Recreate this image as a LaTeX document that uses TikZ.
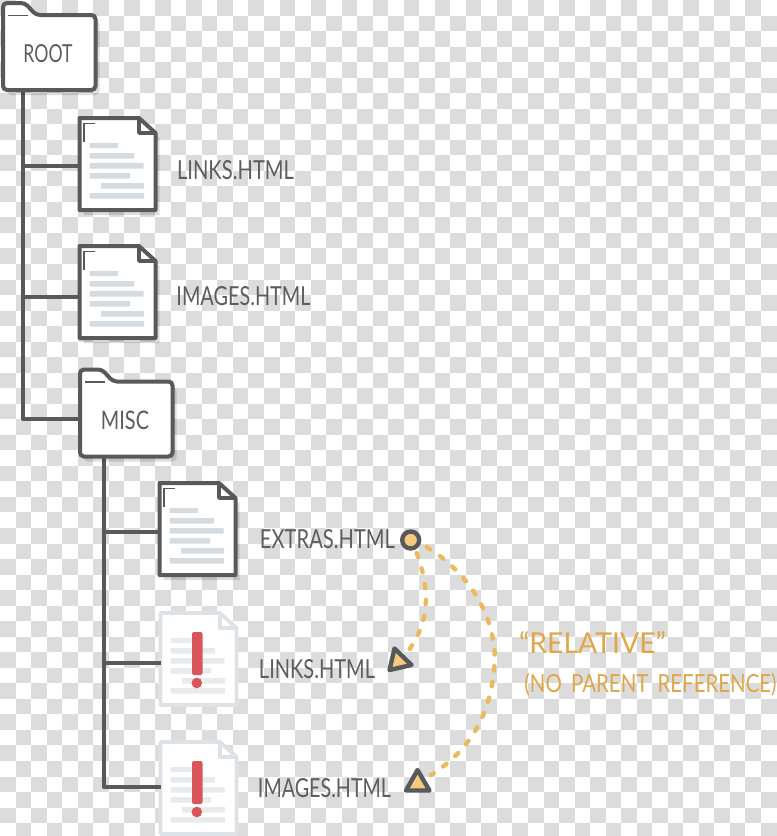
\documentclass[tikz,border=0pt]{standalone}
\usepackage{fontspec}
\usepackage{graphicx}
\setmainfont{Lato}
\definecolor{ink}{HTML}{58595B}
\definecolor{labelink}{HTML}{5C5D61}
\definecolor{checker}{HTML}{DCDCDC}
\definecolor{amber}{HTML}{EDB95E}
\definecolor{ambertext}{HTML}{DFA64A}
\definecolor{amberfill}{HTML}{F6C97F}
\definecolor{docline}{HTML}{D6DBE0}
\definecolor{faint}{HTML}{DDE2E7}
\definecolor{faintline}{HTML}{E8EBEE}
\definecolor{alert}{HTML}{D9555A}
\tikzset{
  x=1pt,y=-1pt,
  wire/.style={draw=ink,line width=4pt,line join=round},
  relpath/.style={draw=amber,line width=4.4pt,line cap=round,dash pattern=on 4.4pt off 11.6pt},
  marker/.style={draw=ink,fill=amberfill,line width=4.4pt,line join=round},
  anchorbox/.style={inner sep=0pt,outer sep=0pt,anchor=north west},
  lab/.style={inner sep=0pt,outer sep=0pt,text=labelink},
  rellab/.style={inner sep=0pt,outer sep=0pt,text=ambertext},
  shadowfill/.style={fill=black,fill opacity=0.13},
}
\newcommand{\folderpath}{(0,87) -- (0,0) -- (22,0) -- (33,12) -- (92.5,12) -- (92.5,87) -- cycle}
\newcommand{\myfolder}[3]{%
  \begin{scope}[shift={(#2,#3)}]
    \fill[shadowfill,rounded corners=4pt,shift={(4,5)}] \folderpath;
    \filldraw[fill=white,draw=ink,line width=4pt,rounded corners=4pt] \folderpath;
    \draw[ink,line width=1.3pt] (5,12.5) -- (25,12.5);
    \node[anchorbox,minimum width=92.5pt,minimum height=87pt] (#1) at (0,0) {};
  \end{scope}}
\newcommand{\doclines}[1]{%
  \fill[#1] (10,25) rectangle (38.5,30) (10,35) rectangle (54.5,40.5)
    (10,45) rectangle (64,50.5) (10,55) rectangle (50.5,60.5)
    (21.5,65) rectangle (64.5,70.5) (10,75) rectangle (64.5,80.5);}
\newcommand{\docpath}{(0,0) -- (59.5,0) -- (76,15) -- (76,92) -- (0,92) -- cycle}
\newcommand{\myfile}[3]{%
  \begin{scope}[shift={(#2,#3)}]
    \fill[shadowfill,shift={(4,5)}] \docpath;
    \filldraw[fill=white,draw=ink,line width=4pt,line join=round] \docpath;
    \draw[ink,line width=3.6pt,line join=round] (59.5,0) -- (59.5,15) -- (76,15);
    \draw[ink,line width=1.5pt] (4.5,24) -- (4.5,5.5) -- (15.5,5.5);
    \doclines{docline}
    \node[anchorbox,minimum width=76pt,minimum height=92pt] (#1) at (0,0) {};
  \end{scope}}
\newcommand{\myalert}[3]{%
  \begin{scope}[shift={(#2,#3)}]
    \filldraw[fill=white,draw=faint,line width=3.8pt,line join=round] \docpath;
    \draw[faint,line width=3.2pt,line join=round] (59.5,0) -- (59.5,15) -- (76,15);
    \doclines{faintline}
    \fill[alert,rounded corners=2pt] (31.5,19) rectangle (42,62);
    \fill[alert] (36.3,70) circle (5.3);
    \node[anchorbox,minimum width=76pt,minimum height=92pt] (#1) at (0,0) {};
  \end{scope}}
\newcommand{\fit}[3]{\resizebox{#1pt}{#2pt}{#3}}
\begin{document}
\begin{tikzpicture}
\useasboundingbox (0,0) rectangle (777,836);
\fill[white] (0,0) rectangle (777,836);
% checkerboard
\begin{scope}
\clip (0,0) rectangle (777,836);
\foreach \r in {0,...,53}{
  \foreach \c in {0,...,50}{
    \pgfmathtruncatemacro{\cellodd}{mod(\r+\c,2)}
    \ifnum\cellodd=0
      \fill[checker] ({\c*15.53},{\r*15.53}) rectangle ({(\c+1)*15.53},{(\r+1)*15.53});
    \fi
  }
}
\end{scope}
% anchor points of the tree
\coordinate (rootout) at (23,90);
\coordinate (bl) at (23,166);
\coordinate (bi) at (23,297);
\coordinate (bm) at (23,419);
\coordinate (bmend) at (81,419);
\coordinate (miscout) at (104,457);
\coordinate (be) at (104,532);
\coordinate (bl2) at (104,662.5);
\coordinate (bi2) at (104,787);
% nodes
\myfile{linksdoc}{79.5}{118}
\myfile{imagesdoc}{79.5}{246}
\myfile{extrasdoc}{159.5}{483}
\myalert{linksalert}{160.5}{613}
\myalert{imagesalert}{160.5}{742}
% connectors under the folders
\draw[wire] (rootout) -- (bm) -- (bmend);
\draw[wire] (bl) -- (bl -| linksdoc.west);
\draw[wire] (bi) -- (bi -| imagesdoc.west);
\draw[wire] (miscout) -- (bi2) -- (bi2 -| imagesalert.west);
\draw[wire] (be) -- (be -| extrasdoc.west);
\draw[wire] (bl2) -- (bl2 -| linksalert.west);
\myfolder{root}{3}{3}
\myfolder{misc}{80}{369.5}
% labels
\node[lab] (rootlab) at (48,54) {\fit{49}{18}{ROOT}};
\node[lab] (misclab) at (125,420) {\fit{48}{18.5}{MISC}};
\node[lab] (l1) at (235.5,170.5) {\fit{117}{19}{LINKS.HTML}};
\node[lab] (i1) at (243.5,296.5) {\fit{134}{19}{IMAGES.HTML}};
\node[lab] (e1) at (327.5,539) {\fit{135}{19}{EXTRAS.HTML}};
\node[lab] (l2) at (317,669.5) {\fit{116}{19}{LINKS.HTML}};
\node[lab] (i2) at (324.5,788.5) {\fit{133}{19}{IMAGES.HTML}};
\node[rellab] (rel) at (592.5,642.5) {\fit{147}{22}{“RELATIVE”}};
\node[rellab] (nop) at (650.5,684.5) {\resizebox*{252pt}{23pt}{(NO\hspace{0.45em}PARENT\hspace{0.45em}REFERENCE)}};
% relative links
\coordinate (src) at (410.7,540);
\coordinate (end1) at (409,650);
\coordinate (end2) at (431,775);
\draw[relpath] (src) ++(6,13) coordinate (s1) (s1) .. controls (430,590) and (430,620) .. (end1);
\draw[relpath] (src) ++(16,7) coordinate (s2) (s2) .. controls (480,580) and (497,630) .. (494.5,665) .. controls (491,715) and (470,750) .. (end2);
\node[circle,marker,minimum size=17pt,inner sep=0pt] (srcdot) at (src) {};
\filldraw[marker] (394.5,648.5) -- (411.5,665) -- (389.5,670) -- cycle;
\filldraw[marker] (417.5,770) -- (429.5,790.5) -- (406,790.5) -- cycle;
\end{tikzpicture}
\end{document}
